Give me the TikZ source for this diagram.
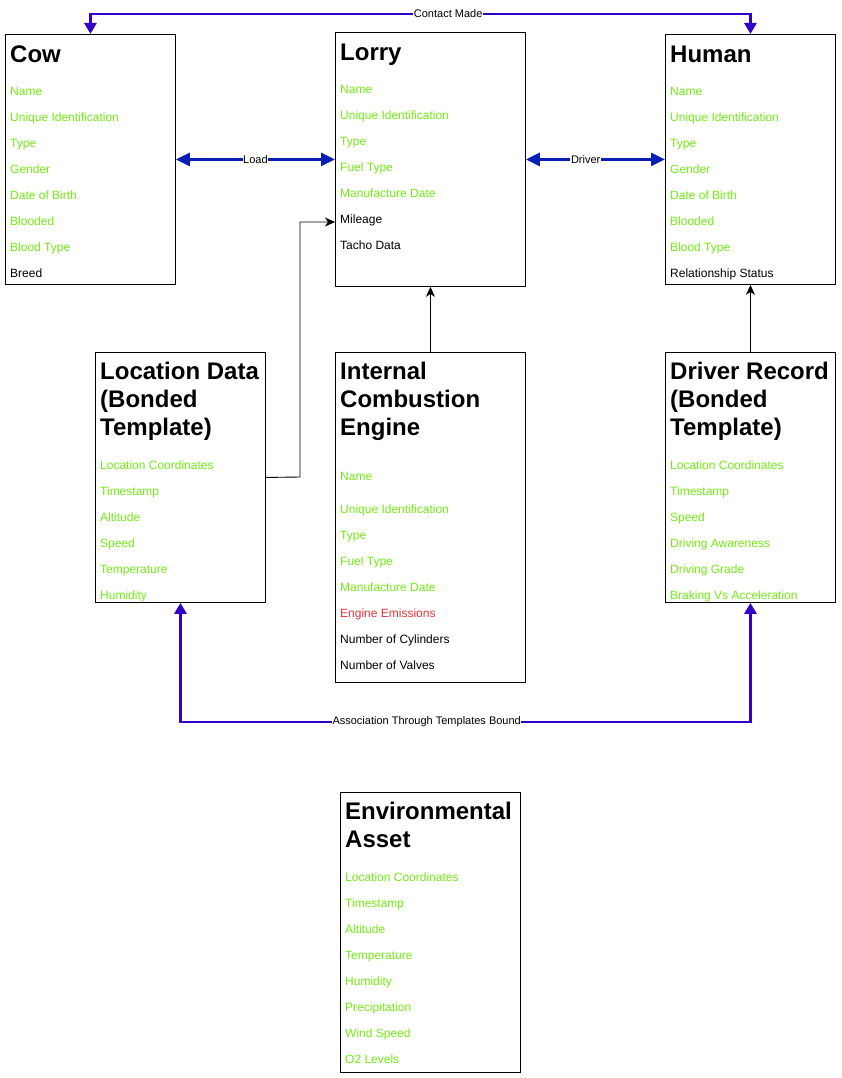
\documentclass[tikz,border=0pt]{standalone}
\usepackage{fontspec}
\setmainfont{Liberation Sans}
\usetikzlibrary{arrows.meta}
\definecolor{attrgreen}{RGB}{115,235,20}
\definecolor{attrred}{RGB}{228,50,58}
\definecolor{purp}{RGB}{52,0,200}
\definecolor{dblue}{RGB}{8,30,180}
\tikzset{
  box/.style={draw=black, line width=0.9pt, anchor=north west, inner sep=0pt},
  ttl/.style={anchor=base west, inner sep=0pt, font=\fontsize{24}{28}\selectfont\bfseries},
  item/.style={anchor=base west, inner sep=0pt, font=\fontsize{12}{14}\selectfont},
  lbl/.style={fill=white, inner sep=0.6pt, font=\fontsize{11}{13}\selectfont, text=black},
  thick link/.style={draw=purp, line width=2.8pt, {Triangle[length=11pt,width=12pt]}-{Triangle[length=11pt,width=12pt]}},
  blue link/.style={draw=dblue, line width=2.8pt, {Triangle[length=14pt,width=13pt]}-{Triangle[length=14pt,width=13pt]}},
  thin link/.style={draw=black, line width=0.9pt, -{Stealth[length=10pt,width=9pt,inset=3pt]}},
}
\begin{document}
\begin{tikzpicture}[x=1pt,y=-1pt]
\useasboundingbox[fill=white] (0,0) rectangle (841,1078);

% boxes
\node[box, minimum width=170pt, minimum height=250pt] (cow) at (5,34) {};
\node[box, minimum width=190pt, minimum height=254pt] (lorry) at (335,32) {};
\node[box, minimum width=170pt, minimum height=250pt] (human) at (665,34) {};
\node[box, minimum width=170pt, minimum height=250pt] (loc) at (95,352) {};
\node[box, minimum width=190pt, minimum height=330pt] (ice) at (335,352) {};
\node[box, minimum width=170pt, minimum height=250pt] (dr) at (665,352) {};
\node[box, minimum width=180pt, minimum height=280pt] (env) at (340,792) {};

% Cow
\node[ttl] (cowt) at (10,62.5) {Cow};
\foreach \t/\c [count=\i from 0] in {Name/attrgreen, Unique Identification/attrgreen, Type/attrgreen, Gender/attrgreen, Date of Birth/attrgreen, Blooded/attrgreen, Blood Type/attrgreen, Breed/black}
  \node[item, text=\c] (cow\i) at (10,95.3+26*\i) {\t};

% Lorry
\node[ttl] (lorryt) at (340,60.5) {Lorry};
\foreach \t/\c [count=\i from 0] in {Name/attrgreen, Unique Identification/attrgreen, Type/attrgreen, Fuel Type/attrgreen, Manufacture Date/attrgreen, Mileage/black, Tacho Data/black}
  \node[item, text=\c] (lorry\i) at (340,93.3+26*\i) {\t};
\coordinate (mil) at (335,222);

% Human
\node[ttl] (humant) at (670,62.5) {Human};
\foreach \t/\c [count=\i from 0] in {Name/attrgreen, Unique Identification/attrgreen, Type/attrgreen, Gender/attrgreen, Date of Birth/attrgreen, Blooded/attrgreen, Blood Type/attrgreen, Relationship Status/black}
  \node[item, text=\c] (human\i) at (670,95.3+26*\i) {\t};

% Location Data
\node[ttl] (loct1) at (100,379.5) {Location Data};
\node[ttl] (loct2) at (100,407.5) {(Bonded};
\node[ttl] (loct3) at (100,435.5) {Template)};
\foreach \t/\c [count=\i from 0] in {Location Coordinates/attrgreen, Timestamp/attrgreen, Altitude/attrgreen, Speed/attrgreen, Temperature/attrgreen, Humidity/attrgreen}
  \node[item, text=\c] (loc\i) at (100,469.3+26*\i) {\t};

% Internal Combustion Engine
\node[ttl] (icet1) at (340,379.5) {Internal};
\node[ttl] (icet2) at (340,407.5) {Combustion};
\node[ttl] (icet3) at (340,435.5) {Engine};
\node[item, text=attrgreen] (ice0) at (340,480.3) {Name};
\foreach \t/\c [count=\i from 1] in {Unique Identification/attrgreen, Type/attrgreen, Fuel Type/attrgreen, Manufacture Date/attrgreen, Engine Emissions/attrred, Number of Cylinders/black, Number of Valves/black}
  \node[item, text=\c] (ice\i) at (340,487.3+26*\i) {\t};

% Driver Record
\node[ttl] (drt1) at (670,379.5) {Driver Record};
\node[ttl] (drt2) at (670,407.5) {(Bonded};
\node[ttl] (drt3) at (670,435.5) {Template)};
\foreach \t/\c [count=\i from 0] in {Location Coordinates/attrgreen, Timestamp/attrgreen, Speed/attrgreen, Driving Awareness/attrgreen, Driving Grade/attrgreen, Braking Vs Acceleration/attrgreen}
  \node[item, text=\c] (dr\i) at (670,469.3+26*\i) {\t};

% Environmental Asset
\node[ttl] (envt1) at (345,819.5) {Environmental};
\node[ttl] (envt2) at (345,847.5) {Asset};
\foreach \t/\c [count=\i from 0] in {Location Coordinates/attrgreen, Timestamp/attrgreen, Altitude/attrgreen, Temperature/attrgreen, Humidity/attrgreen, Precipitation/attrgreen, Wind Speed/attrgreen, O2 Levels/attrgreen}
  \node[item, text=\c] (env\i) at (345,881.3+26*\i) {\t};

% connectors
\draw[thick link] (cow.north) -- (cow.north |- 0,14)
  -- node[lbl, pos=0.542] {Contact Made} (human.north |- 0,14) -- (human.north);
\draw[blue link] (cow.east) -- node[lbl] {Load} (lorry.west);
\draw[blue link] (lorry.east) -- node[lbl, pos=0.43] {Driver} (human.west);
\draw[thin link] (loc.east) -- (300,477) |- (mil);
\draw[thin link] (ice.north) -- (lorry.south);
\draw[thin link] (dr.north) -- (human.south);
\draw[thick link] (loc.south) -- (loc.south |- 0,722)
  -- node[lbl, pos=0.432] {Association Through Templates Bound} (dr.south |- 0,722) -- (dr.south);
\end{tikzpicture}
\end{document}
